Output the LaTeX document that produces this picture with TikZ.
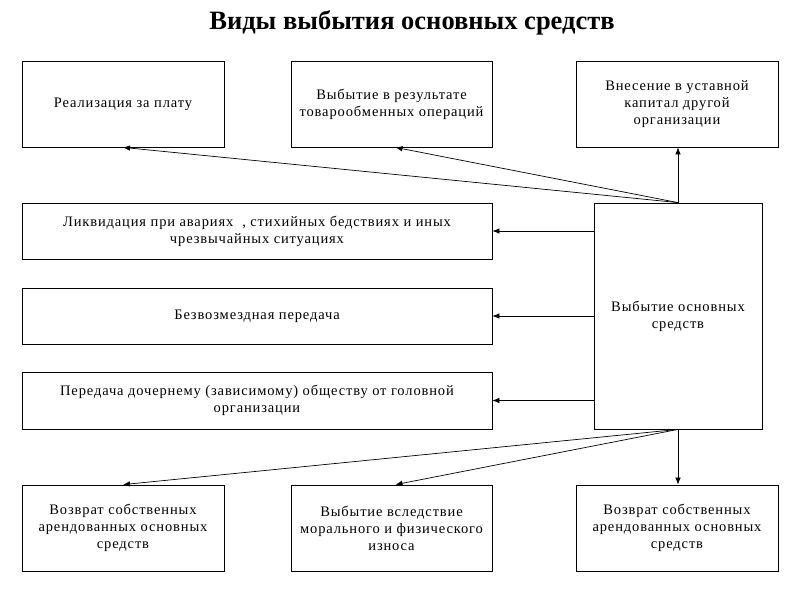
\documentclass[tikz,border=0pt]{standalone}
\usepackage{fontspec}
\setmainfont{Liberation Serif}
\newfontfamily\boxfont[LetterSpace=6]{Liberation Serif}
\usetikzlibrary{arrows.meta}
\begin{document}
\begin{tikzpicture}[x=1pt,y=-1pt,
  box/.style={draw, line width=0.8pt, inner sep=0pt, align=center,
    font=\boxfont\fontsize{14.5}{17}\selectfont},
  conn/.style={line width=0.7pt, -{Latex[length=7pt,width=5.5pt]}}]
\useasboundingbox (0,0) rectangle (800,600);
\node[font=\fontsize{26.5}{30}\selectfont\bfseries] (title) at (412,23) {Виды выбытия основных средств};
% top row
\node[box, minimum width=202pt, minimum height=86pt] (t1) at (123,104) {Реализация за плату};
\node[box, minimum width=201pt, minimum height=86pt] (t2) at (391.5,104) {Выбытие в результате\\товарообменных операций};
\node[box, minimum width=202pt, minimum height=86pt] (t3) at (677,104) {Внесение в уставной\\капитал другой\\организации};
% middle left
\node[box, minimum width=470pt, minimum height=56pt] (l1) at (257,231) {Ликвидация при авариях\ \ , стихийных бедствиях и иных\\чрезвычайных ситуациях};
\node[box, minimum width=470pt, minimum height=56pt] (l2) at (257,316) {Безвозмездная передача};
\node[box, minimum width=470pt, minimum height=57pt] (l3) at (257,400.5) {Передача дочернему (зависимому) обществу от головной\\организации};
% center
\node[box, minimum width=168pt, minimum height=226pt] (c) at (678,316) {Выбытие основных\\средств};
% bottom row
\node[box, minimum width=202pt, minimum height=86pt] (b1) at (123,528) {Возврат собственных\\арендованных основных\\средств};
\node[box, minimum width=201pt, minimum height=86pt] (b2) at (391.5,528) {Выбытие вследствие\\морального и физического\\износа};
\node[box, minimum width=202pt, minimum height=86pt] (b3) at (677,528) {Возврат собственных\\арендованных основных\\средств};
% connectors
\draw[conn] (c.north) -- (t1.south);
\draw[conn] (c.north) -- ([xshift=4pt]t2.south);
\draw[conn] (c.north) -- (c.north |- t3.south);
\draw[conn] (c.west |- l1) -- (l1.east);
\draw[conn] (c.west |- l2) -- (l2.east);
\draw[conn] (c.west |- l3) -- (l3.east);
\draw[conn] (c.south) -- (b1.north);
\draw[conn] (c.south) -- ([xshift=4pt]b2.north);
\draw[conn] (c.south) -- (c.south |- b3.north);
\end{tikzpicture}
\end{document}
